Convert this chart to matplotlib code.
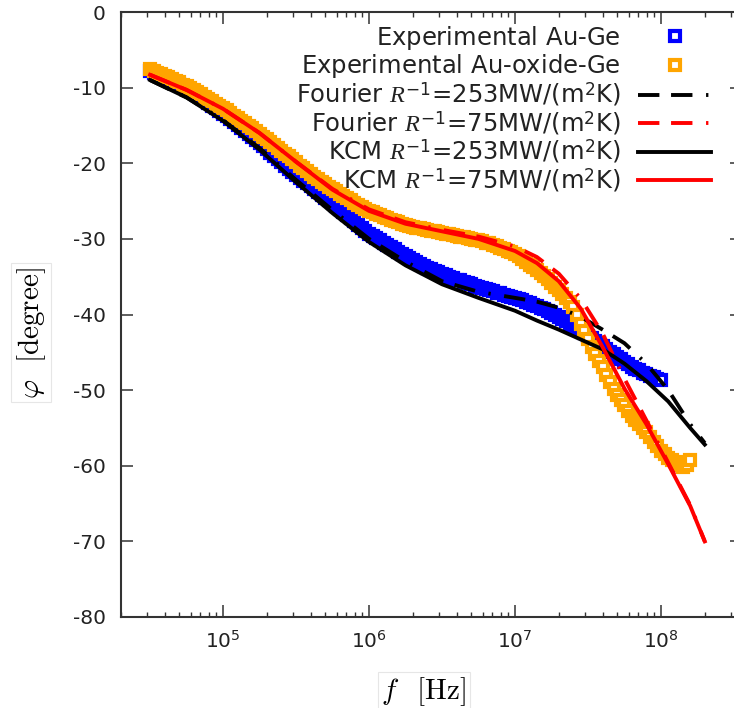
import numpy as np
import matplotlib
matplotlib.use("Agg")
import matplotlib.pyplot as plt

plt.rcParams['font.family'] = ['DejaVu Sans']
plt.rcParams['axes.unicode_minus'] = False
plt.rcParams['mathtext.fontset'] = 'dejavusans'
plt.rcParams['mathtext.rm'] = 'DejaVu Sans'
plt.rcParams['mathtext.it'] = 'Liberation Serif:italic'
plt.rcParams['mathtext.bf'] = 'DejaVu Sans:bold'

# ---------------- data ----------------
# Experimental Au-Ge : log10(f/Hz) and phase (degree)
logf_auge = [
    4.500, 4.525, 4.550, 4.575, 4.600, 4.625, 4.650, 4.675, 4.700, 4.725,
    4.750, 4.775, 4.800, 4.825, 4.850, 4.875, 4.900, 4.925, 4.950, 4.975,
    5.000, 5.025, 5.050, 5.075, 5.100, 5.125, 5.150, 5.175, 5.200, 5.225,
    5.250, 5.275, 5.300, 5.325, 5.350, 5.375, 5.400, 5.425, 5.450, 5.475,
    5.500, 5.525, 5.550, 5.575, 5.600, 5.625, 5.650, 5.675, 5.700, 5.725,
    5.750, 5.775, 5.800, 5.825, 5.850, 5.875, 5.900, 5.925, 5.950, 5.975,
    6.000, 6.025, 6.050, 6.075, 6.100, 6.125, 6.150, 6.175, 6.200, 6.225,
    6.250, 6.275, 6.300, 6.325, 6.350, 6.375, 6.400, 6.425, 6.450, 6.475,
    6.500, 6.525, 6.550, 6.575, 6.600, 6.625, 6.650, 6.675, 6.700, 6.725,
    6.750, 6.775, 6.800, 6.825, 6.850, 6.875, 6.900, 6.925, 6.950, 6.975,
    7.000, 7.025, 7.050, 7.075, 7.100, 7.125, 7.150, 7.175, 7.200, 7.225,
    7.250, 7.275, 7.300, 7.325, 7.350, 7.375, 7.400, 7.425, 7.450, 7.475,
    7.500, 7.525, 7.550, 7.575, 7.600, 7.625, 7.650, 7.675, 7.700, 7.725,
    7.750, 7.775, 7.800, 7.825, 7.850, 7.875, 7.900, 7.925, 7.950, 7.975,
    8.000]
phi_auge = [
    -7.8, -8.0, -8.2, -8.4, -8.6, -8.9, -9.1, -9.3, -9.5, -9.8,
    -10.0, -10.3, -10.6, -11.0, -11.3, -11.7, -12.0, -12.4, -12.7, -13.1,
    -13.5, -13.8, -14.2, -14.6, -15.0, -15.4, -15.8, -16.1, -16.5, -16.9,
    -17.3, -17.7, -18.1, -18.6, -19.0, -19.4, -19.8, -20.3, -20.7, -21.1,
    -21.5, -21.9, -22.3, -22.6, -23.0, -23.4, -23.8, -24.2, -24.6, -24.9,
    -25.3, -25.7, -26.1, -26.5, -26.9, -27.3, -27.7, -28.1, -28.5, -28.9,
    -29.3, -29.6, -29.9, -30.2, -30.5, -30.8, -31.1, -31.4, -31.7, -32.0,
    -32.3, -32.5, -32.8, -33.0, -33.3, -33.6, -33.8, -34.0, -34.2, -34.4,
    -34.6, -34.8, -35.0, -35.2, -35.4, -35.5, -35.7, -35.9, -36.0, -36.2,
    -36.3, -36.5, -36.6, -36.8, -36.9, -37.1, -37.2, -37.4, -37.5, -37.7,
    -37.8, -37.9, -38.1, -38.3, -38.5, -38.7, -38.9, -39.1, -39.3, -39.5,
    -39.8, -40.0, -40.3, -40.6, -40.9, -41.2, -41.5, -41.8, -42.1, -42.5,
    -42.8, -43.1, -43.5, -43.8, -44.2, -44.5, -44.9, -45.2, -45.6, -45.9,
    -46.3, -46.6, -46.9, -47.2, -47.4, -47.7, -47.9, -48.1, -48.3, -48.5,
    -48.7]

# Experimental Au-oxide-Ge
logf_auox = [
    4.500, 4.525, 4.550, 4.575, 4.600, 4.625, 4.650, 4.675, 4.700, 4.725,
    4.750, 4.775, 4.800, 4.825, 4.850, 4.875, 4.900, 4.925, 4.950, 4.975,
    5.000, 5.025, 5.050, 5.075, 5.100, 5.125, 5.150, 5.175, 5.200, 5.225,
    5.250, 5.275, 5.300, 5.325, 5.350, 5.375, 5.400, 5.425, 5.450, 5.475,
    5.500, 5.525, 5.550, 5.575, 5.600, 5.625, 5.650, 5.675, 5.700, 5.725,
    5.750, 5.775, 5.800, 5.825, 5.850, 5.875, 5.900, 5.925, 5.950, 5.975,
    6.000, 6.025, 6.050, 6.075, 6.100, 6.125, 6.150, 6.175, 6.200, 6.225,
    6.250, 6.275, 6.300, 6.325, 6.350, 6.375, 6.400, 6.425, 6.450, 6.475,
    6.500, 6.525, 6.550, 6.575, 6.600, 6.625, 6.650, 6.675, 6.700, 6.725,
    6.750, 6.775, 6.800, 6.825, 6.850, 6.875, 6.900, 6.925, 6.950, 6.975,
    7.000, 7.025, 7.050, 7.075, 7.100, 7.125, 7.150, 7.175, 7.200, 7.225,
    7.250, 7.275, 7.300, 7.325, 7.350, 7.375, 7.400, 7.425, 7.450, 7.475,
    7.500, 7.525, 7.550, 7.575, 7.600, 7.625, 7.650, 7.675, 7.700, 7.725,
    7.750, 7.775, 7.800, 7.825, 7.850, 7.875, 7.900, 7.925, 7.950, 7.975,
    8.000, 8.025, 8.050, 8.075, 8.100, 8.125, 8.150, 8.175, 8.200]
phi_auox = [
    -7.6, -7.8, -8.0, -8.2, -8.4, -8.6, -8.8, -9.1, -9.3, -9.6,
    -9.8, -10.1, -10.3, -10.6, -10.9, -11.2, -11.5, -11.8, -12.1, -12.4,
    -12.7, -13.0, -13.3, -13.7, -14.0, -14.4, -14.7, -15.1, -15.4, -15.8,
    -16.1, -16.5, -16.8, -17.2, -17.6, -18.0, -18.4, -18.8, -19.1, -19.5,
    -19.9, -20.3, -20.6, -21.0, -21.4, -21.8, -22.1, -22.5, -22.8, -23.1,
    -23.4, -23.7, -24.0, -24.3, -24.6, -24.9, -25.2, -25.5, -25.8, -26.1,
    -26.3, -26.5, -26.7, -26.9, -27.1, -27.3, -27.5, -27.7, -27.8, -28.0,
    -28.1, -28.3, -28.4, -28.5, -28.6, -28.7, -28.8, -28.9, -29.0, -29.1,
    -29.2, -29.3, -29.4, -29.5, -29.6, -29.7, -29.8, -29.9, -30.0, -30.1,
    -30.2, -30.3, -30.5, -30.6, -30.8, -31.0, -31.2, -31.4, -31.6, -31.8,
    -32.0, -32.3, -32.7, -33.0, -33.4, -33.7, -34.1, -34.5, -34.9, -35.3,
    -35.8, -36.3, -36.8, -37.3, -37.8, -38.4, -39.0, -40.1, -41.2, -42.2,
    -43.3, -44.3, -45.2, -46.1, -47.0, -48.0, -48.9, -49.8, -50.6, -51.3,
    -52.0, -52.7, -53.4, -54.0, -54.5, -55.0, -55.5, -56.2, -56.8, -57.4,
    -58.0, -58.5, -59.0, -59.3, -59.5, -59.9, -60.2, -59.9, -59.3]

# Model curves
logf_model = [4.5, 4.75, 5.0, 5.25, 5.5, 5.75, 6.0, 6.25, 6.5, 6.75,
              7.0, 7.15, 7.3, 7.45, 7.6, 7.75, 7.9, 8.05, 8.2, 8.3]
phi_fourier_253 = [-9.0, -11.3, -14.3, -18.0, -22.2, -26.2, -30.0, -33.0, -35.6, -37.0,
                   -37.8, -38.3, -39.1, -40.3, -42.0, -43.8, -46.5, -50.0, -54.5, -57.0]
phi_fourier_75 = [-8.3, -10.3, -12.8, -16.0, -19.8, -23.4, -26.1, -27.8, -28.8, -29.7,
                  -31.0, -32.4, -34.6, -37.9, -42.5, -48.5, -54.0, -59.6, -65.2, -70.0]
phi_kcm_253 = [-9.0, -11.3, -14.4, -18.2, -22.5, -26.6, -30.4, -33.5, -36.0, -37.8,
               -39.5, -40.8, -42.0, -43.3, -44.6, -46.5, -48.8, -51.5, -55.0, -57.2]
phi_kcm_75 = [-8.3, -10.3, -12.8, -16.0, -19.8, -23.5, -26.3, -28.0, -29.0, -30.0,
              -31.6, -33.2, -35.6, -39.2, -44.3, -49.8, -54.5, -59.8, -65.3, -70.0]

# (the empty superscript only evens out the legend row heights)
labels = [r"Experimental Au-Ge$^{\,}$", r"Experimental Au-oxide-Ge$^{\,}$",
          r"Fourier $R^{-1}$=253MW/(m$^{2}$K)", r"Fourier $R^{-1}$=75MW/(m$^{2}$K)",
          r"KCM $R^{-1}$=253MW/(m$^{2}$K)", r"KCM $R^{-1}$=75MW/(m$^{2}$K)"]

f_auge = 10 ** np.array(logf_auge)
f_auox = 10 ** np.array(logf_auox)
f_model = 10 ** np.array(logf_model)

# ---------------- figure ----------------
W, H = 734, 708
fig = plt.figure(figsize=(W / 100, H / 100), dpi=100)
ax = fig.add_axes([121 / W, 1 - 617 / H, (742 - 121) / W, (617 - 12) / H])

mk = dict(linestyle='none', marker='s', markersize=7, markeredgewidth=3,
          markerfacecolor='white')
ax.plot(f_auge, phi_auge, color='#0000ff', markeredgecolor='#0000ff', label=labels[0], **mk)
ax.plot(f_auox, phi_auox, color='#ffa500', markeredgecolor='#ffa500', label=labels[1], **mk)

dash = (5.5, 3.0, 5.5, 3.5, 0.6, 3.5)
ax.plot(f_model, phi_fourier_253, color='black', lw=2.8, dashes=dash, label=labels[2])
ax.plot(f_model, phi_fourier_75, color='#ff0000', lw=2.8, dashes=dash, label=labels[3])
ax.plot(f_model, phi_kcm_253, color='black', lw=2.8, label=labels[4])
ax.plot(f_model, phi_kcm_75, color='#ff0000', lw=2.8, label=labels[5])

ax.set_xscale('log')
ax.set_xlim(2.0e4, 3.59e8)
ax.set_ylim(-80, 0)
ax.set_yticks(np.arange(-80, 1, 10))
ax.set_xticks([1e5, 1e6, 1e7, 1e8])

for s in ax.spines.values():
    s.set_color('#333333')
    s.set_linewidth(1.5)
ax.tick_params(which='both', direction='in', top=True, right=True, colors='#333333',
               labelcolor='#222222', labelsize=14.5)
ax.tick_params(which='major', length=8.5, width=1.1)
ax.tick_params(which='minor', length=3.6, width=1.0)
ax.tick_params(axis='y', pad=11)
ax.tick_params(axis='x', pad=9)

box = dict(boxstyle='square,pad=0.12', facecolor='white', edgecolor='#e6e6e6', linewidth=0.8)
ax.set_ylabel(r'$\varphi\ \ [\mathrm{degree}]$', fontsize=21, math_fontfamily='cm', bbox=box)
ax.yaxis.set_label_coords(-0.118, 0.47)
ax.set_xlabel(r'$f\ \ \,[\mathrm{Hz}]$', fontsize=21, math_fontfamily='cm', bbox=box)
ax.xaxis.set_label_coords(0.488, -0.097)

leg = ax.legend(loc='upper right', bbox_to_anchor=(711 / W, 1 - 24 / H),
                bbox_transform=fig.transFigure, frameon=False, markerfirst=False,
                fontsize=17.5, handlelength=3.0, handletextpad=0.72,
                labelspacing=0.02, borderpad=0, borderaxespad=0)
for t in leg.get_texts():
    t.set_math_fontfamily('custom')
    t.set_color('#222222')

fig.savefig('out.png', dpi=100)
